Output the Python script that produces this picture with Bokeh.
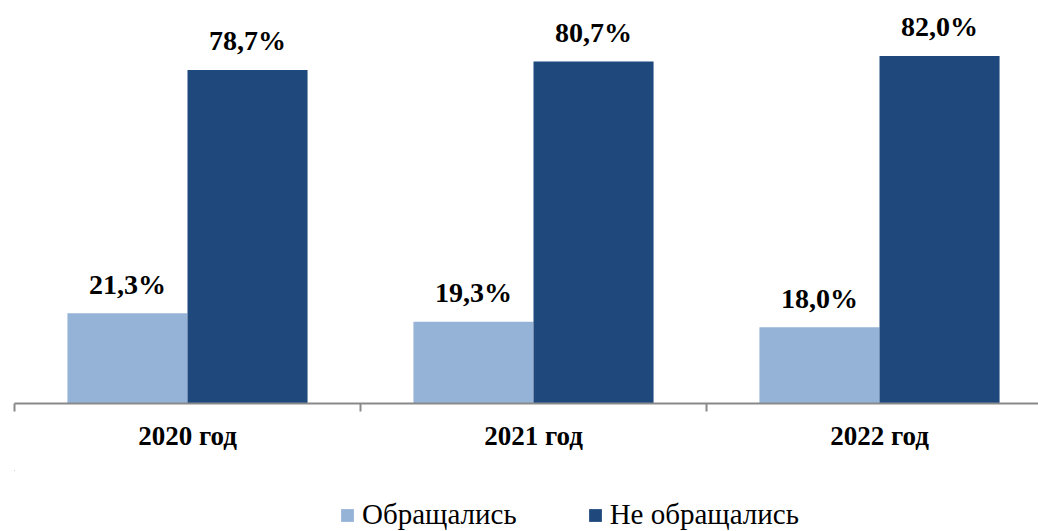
from bokeh.plotting import figure
from bokeh.models import Range1d, FixedTicker, Legend, LegendItem, ColumnDataSource
from bokeh.layouts import column
from bokeh.embed import file_html
from bokeh.resources import INLINE
from bokeh.core.properties import value

years = ["2020 год", "2021 год", "2022 год"]
applied = [21.3, 19.3, 18.0]
not_applied = [78.7, 80.7, 82.0]
series_names = ["Обращались", "Не обращались"]

LIGHT = "#95B3D7"
DARK = "#1F497D"
FONT = "Liberation Serif"
BW = 0.347

centers = [i + 0.5 for i in range(len(years))]

p = figure(width=1038, height=470, output_backend="svg", toolbar_location=None,
           x_range=Range1d(0, 1024 / 346), y_range=Range1d(0, 93.2),
           y_axis_location=None, min_border_left=14, min_border_right=0,
           min_border_top=8, min_border_bottom=67)
p.outline_line_color = None
p.xgrid.visible = False
p.ygrid.visible = False

src1 = ColumnDataSource(dict(x=[c - BW / 2 for c in centers], top=applied,
                             lab=[f"{v:.1f}%".replace(".", ",") for v in applied]))
src2 = ColumnDataSource(dict(x=[c + BW / 2 for c in centers], top=not_applied,
                             lab=[f"{v:.1f}%".replace(".", ",") for v in not_applied]))

p.vbar(x="x", top="top", width=BW, source=src1, fill_color=LIGHT, line_color=None)
p.vbar(x="x", top="top", width=BW, source=src2, fill_color=DARK, line_color=None)

for s in (src1, src2):
    p.text(x="x", y="top", text="lab", source=s, text_font=value(FONT),
           text_font_size="28px", text_font_style="bold", text_color="black",
           text_align="center", text_baseline="alphabetic", y_offset=-29)

ax = p.xaxis[0]
ax.ticker = FixedTicker(ticks=centers, minor_ticks=[0, 1, 2, 3])
ax.major_label_overrides = {c: y for c, y in zip(centers, years)}
ax.major_tick_out = 0
ax.major_tick_in = 0
ax.minor_tick_out = 8
ax.minor_tick_in = 0
ax.minor_tick_line_color = "#898989"
ax.minor_tick_line_width = 2
ax.axis_line_color = "#898989"
ax.axis_line_width = 2
ax.major_label_text_font = FONT
ax.major_label_text_font_size = "27px"
ax.major_label_text_font_style = "bold"
ax.major_label_text_color = "black"
ax.major_label_standoff = 9

# legend strip: same series, kept outside its visible ranges, only the legend shows
lg = figure(width=1038, height=61, output_backend="svg", toolbar_location=None,
            x_range=Range1d(100, 101), y_range=Range1d(-20, -19),
            x_axis_location=None, y_axis_location=None,
            min_border_left=0, min_border_right=0, min_border_top=0, min_border_bottom=0)
lg.outline_line_color = None
lg.xgrid.visible = False
lg.ygrid.visible = False
e1 = lg.vbar(x="x", top="top", width=BW, source=src1, fill_color=LIGHT, line_color=None)
e2 = lg.vbar(x="x", top="top", width=BW, source=src2, fill_color=DARK, line_color=None)

legend = Legend(items=[LegendItem(label=series_names[0], renderers=[e1]),
                       LegendItem(label=series_names[1], renderers=[e2])],
                orientation="horizontal", location=(325, 0),
                label_text_font=FONT, label_text_font_size="29px",
                label_text_color="black", glyph_width=16, glyph_height=16,
                label_standoff=7, spacing=70, padding=0, margin=0,
                border_line_color=None, background_fill_alpha=0)
lg.add_layout(legend, "center")

layout = column(p, lg, spacing=0)
open("out.html", "w").write(file_html(layout, INLINE))
